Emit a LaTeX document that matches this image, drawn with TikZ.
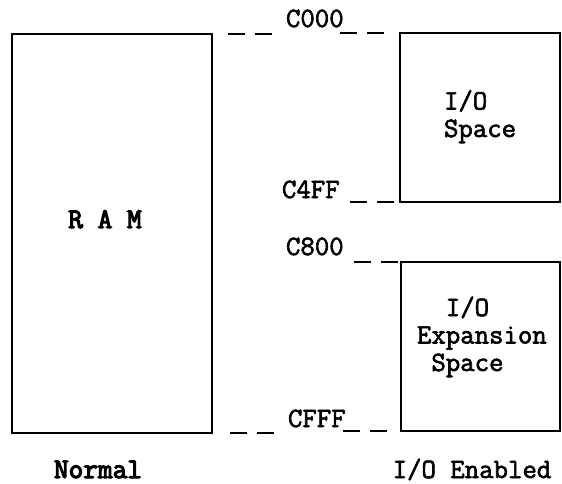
\documentclass[tikz,border=0pt]{standalone}
\usepackage{fontspec}
\newfontfamily\typer[FakeBold=2.2]{Latin Modern Mono}
\newfontfamily\typerbold[FakeBold=4]{Latin Modern Mono}

\begin{document}
\begin{tikzpicture}[x=1pt, y=-1pt, font=\fontsize{28}{27.5}\selectfont\typer, membox/.style={draw, line width=2.8pt, outer sep=0pt, inner sep=0pt}, addr/.style={line width=2.8pt, dash pattern=on 17pt off 10pt}, txt/.style={inner sep=0pt, outer sep=0pt, align=left}]
\useasboundingbox (0,0) rectangle (562,484);
\node[membox, minimum width=200pt, minimum height=399pt] (ram) at (112,233.5) {};
\node[membox, minimum width=160pt, minimum height=169pt] (iospace) at (480,117.5) {};
\node[membox, minimum width=159pt, minimum height=169pt] (ioexp) at (480.5,346.5) {};
\node[txt, anchor=base, font=\fontsize{28.5}{27.5}\selectfont\typerbold] (ramtext) at (105,228) {R A M};
\node[txt, anchor=base west] (iospacetext) at (444,137) {I/O\\Space};
\node[txt, anchor=base west] (ioexptext) at (417,371) {\phantom{Ex}I/O\\Expansion\\\phantom{E}Space};
\node[txt, anchor=base west] (c000) at (286,27) {C000};
\node[txt, anchor=base west] (c4ff) at (282,198) {C4FF};
\node[txt, anchor=base west] (c800) at (286,255) {C800};
\node[txt, anchor=base west] (cfff) at (288,427) {CFFF};
\node[txt, anchor=base, font=\fontsize{28.5}{27.5}\selectfont\typerbold] (normal) at (98,478) {Normal};
\node[txt, anchor=base] (enabled) at (472,478) {I/O Enabled};
\draw[addr, shorten <=16pt, shorten >=13pt] (ram.north east) -- (c000.base west |- ram.north east);
\draw[addr, shorten >=12pt] ([xshift=-4pt]c000.base east |- iospace.north west) -- (iospace.north west);
\draw[addr, shorten <=10pt] (c4ff.base east |- iospace.south west) -- (iospace.south west);
\draw[addr, shorten <=10pt] (c800.base east |- ioexp.north west) -- (ioexp.north west);
\draw[addr, shorten <=18pt, shorten >=11pt] (ram.south east) -- (cfff.base west |- ram.south east);
\draw[addr, shorten >=12pt] ([xshift=-3pt]cfff.base east |- ioexp.south west) -- (ioexp.south west);
\end{tikzpicture}
\end{document}
